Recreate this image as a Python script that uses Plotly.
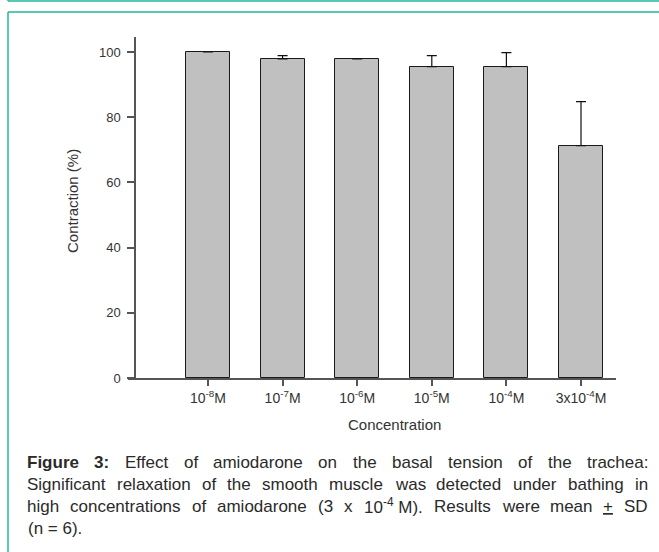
import re
import plotly.graph_objects as go

categories = ["10<sup>-8</sup>M", "10<sup>-7</sup>M", "10<sup>-6</sup>M",
              "10<sup>-5</sup>M", "10<sup>-4</sup>M", "3x10<sup>-4</sup>M"]
means = [100.0, 97.9, 97.9, 95.5, 95.5, 71.3]
sd = [0.0, 1.0, 0.0, 3.4, 4.3, 13.5]
y_ticks = [0, 20, 40, 60, 80, 100]

caption_lines = [
    "<b>Figure</b> <b>3:</b> Effect of amiodarone on the basal tension of the trachea:",
    "Significant relaxation of the smooth muscle was detected under bathing in",
    "high concentrations of amiodarone (3 x 10<sup>-4</sup>\u00a0M). Results were mean <u>+</u> SD",
    "(n = 6).",
]

W, H = 659, 552
L, R, T, B = 128, 616, 37, 378


def px(x):
    return (x - L) / (R - L)


def py(y):
    return (B - y) / (B - T)


# Arial / Liberation Sans advance widths (per 1000 em)
REG = {" ": 278, "\u00a0": 278, "(": 333, ")": 333, ".": 278, ":": 278, "=": 584, "+": 584, "-": 333,
       "%": 889, "a": 556, "b": 556, "c": 500, "d": 556, "e": 556, "f": 278, "g": 556, "h": 556,
       "i": 222, "j": 222, "k": 500, "l": 222, "m": 833, "n": 556, "o": 556, "p": 556, "q": 556,
       "r": 333, "s": 500, "t": 278, "u": 556, "v": 500, "w": 722, "x": 500, "y": 500, "z": 500,
       "D": 722, "E": 667, "F": 611, "M": 833, "R": 722, "S": 667}
BOLD = {"F": 611, "i": 278, "g": 611, "u": 611, "r": 389, "e": 556, ":": 333}


def word_width(word, size):
    total = 0.0
    for m in re.finditer(r"<(b|sup|u)>(.*?)</\1>|([^<]+)", word):
        tag, inner, plain = m.group(1), m.group(2), m.group(3)
        if plain is not None:
            total += sum(REG.get(c, 556) for c in plain)
        elif tag == "b":
            total += sum(BOLD.get(c, REG.get(c, 556)) for c in inner)
        elif tag == "sup":
            total += 0.7 * sum(REG.get(c, 556) for c in inner)
        else:
            total += sum(REG.get(c, 556) for c in inner)
    return total * size / 1000.0


xpos = list(range(len(categories)))
err_plus = [v if v > 0 else None for v in sd]
err_minus = [0 if v > 0 else None for v in sd]

fig = go.Figure()
fig.add_trace(go.Bar(
    x=xpos, y=means, width=0.59,
    marker=dict(color="#c0c0c0", line=dict(color="#1a1a1a", width=1)),
    error_y=dict(type="data", array=err_plus, arrayminus=err_minus, symmetric=False,
                 color="#111111", thickness=1.2, width=5),
    showlegend=False,
))

axis_font = dict(family="Liberation Sans, Arial, sans-serif", size=13, color="#333333")
xtick_font = dict(family="Liberation Sans, Arial, sans-serif", size=14, color="#333333")

fig.update_layout(
    width=W, height=H,
    margin=dict(l=L, r=W - R, t=T, b=H - B, pad=0),
    paper_bgcolor="white", plot_bgcolor="white",
    bargap=0,
    xaxis=dict(range=[-1.072, 5.469], tickvals=xpos, ticktext=categories,
               showline=True, linecolor="#555555", linewidth=1.5,
               ticks="outside", ticklen=6, tickcolor="#555555", tickwidth=1.5,
               showgrid=False, zeroline=False, tickfont=xtick_font, domain=[0, 1]),
    yaxis=dict(range=[0, 104.6], tickvals=y_ticks, anchor="free", position=7 / (R - L),
               showline=True, linecolor="#555555", linewidth=1.5,
               ticks="outside", ticklen=7, tickcolor="#555555", tickwidth=1.5,
               showgrid=False, zeroline=False, tickfont=axis_font,
               ticklabelstandoff=4),
    font=dict(family="Liberation Sans, Arial, sans-serif"),
)

title_font = dict(family="Liberation Sans, Arial, sans-serif", size=15, color="#333333")
fig.add_annotation(x=px(394), y=py(425), xref="paper", yref="paper", text="Concentration",
                   showarrow=False, font=title_font, xanchor="center", yanchor="middle")
fig.add_annotation(x=px(72), y=py(201), xref="paper", yref="paper", text="Contraction (%)",
                   showarrow=False, textangle=-90, font=title_font,
                   xanchor="center", yanchor="middle")

# teal frame
teal = "#22b597"
for (x0, y0, x1, y1) in [(8, 1, W, 1), (8, 0, 8, 1), (8, 12, W, 12), (8, 12, 8, H)]:
    fig.add_shape(type="line", xref="paper", yref="paper",
                  x0=px(x0), y0=py(y0), x1=px(x1), y1=py(y1),
                  line=dict(color=teal, width=1.5))

# caption: justified text by placing words
CAP_SIZE = 17
cap_font = dict(family="Liberation Sans, Arial, sans-serif", size=CAP_SIZE, color="#2a2a2a")
x_left, x_right = 26, 647
line_y = [462, 484, 506, 528]
for i, (text, yline) in enumerate(zip(caption_lines, line_y)):
    if i == len(caption_lines) - 1:
        fig.add_annotation(x=px(x_left), y=py(yline), xref="paper", yref="paper", text=text,
                           showarrow=False, font=cap_font, xanchor="left", yanchor="middle")
        continue
    words = text.split(" ")
    widths = [word_width(w, CAP_SIZE) for w in words]
    gap = (x_right - x_left - sum(widths)) / (len(words) - 1)
    x = x_left
    for w, ww in zip(words, widths):
        fig.add_annotation(x=px(x), y=py(yline), xref="paper", yref="paper", text=w,
                           showarrow=False, font=cap_font, xanchor="left", yanchor="middle",
                           borderpad=0)
        x += ww + gap

fig.write_html("out.html", config={"displayModeBar": False},
               post_script="document.body.style.margin='0';document.body.style.padding='0';")
